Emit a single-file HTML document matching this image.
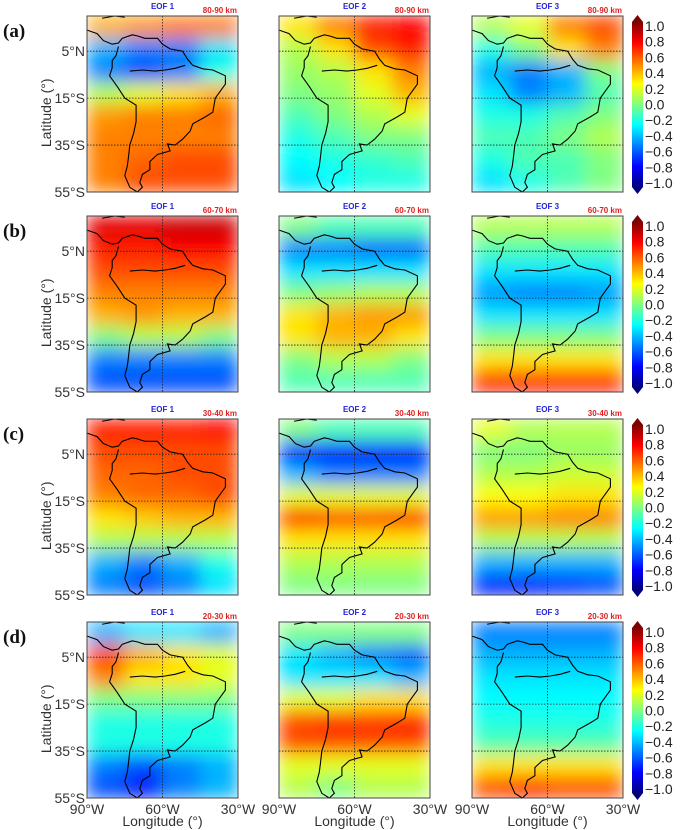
<!DOCTYPE html>
<html><head><meta charset="utf-8">
<style>
html,body{margin:0;padding:0;background:#fff;}
svg{display:block;font-family:"Liberation Sans",sans-serif;}
</style></head>
<body>
<svg id="fig" width="685" height="830" viewBox="0 0 685 830" xmlns="http://www.w3.org/2000/svg">
<defs>
<linearGradient id="jet" x1="0" y1="1" x2="0" y2="0">
<stop offset="0" stop-color="#00007f"/><stop offset="0.125" stop-color="#0000ff"/>
<stop offset="0.375" stop-color="#00ffff"/><stop offset="0.625" stop-color="#ffff00"/>
<stop offset="0.875" stop-color="#ff0000"/><stop offset="1" stop-color="#7f0000"/>
</linearGradient>
<filter id="blur" x="0" y="0" width="1" height="1"><feGaussianBlur stdDeviation="9" edgeMode="duplicate"/></filter>
</defs>
</svg>
<script>
// ---- data (8 latitude bands top->bottom, 4 longitude bands west->east) ----
const rowLabels = ["(a)","(b)","(c)","(d)"];
const heights = ["80-90 km","60-70 km","30-40 km","20-30 km"];
const eofNames = ["EOF 1","EOF 2","EOF 3"];
const latTicks = ["5°N","15°S","35°S","55°S"];
const latTickValues = [5,-15,-35,-55];
const lonTicks = ["90°W","60°W","30°W"];
const lonTickValues = [-90,-60,-30];
const cbarTicks = [1.0,0.8,0.6,0.4,0.2,0.0,-0.2,-0.4,-0.6,-0.8,-1.0];
const a1=[[0.4,0.45,0.5,0.5],[-0.4,-0.5,-0.5,-0.3],[-0.5,-0.6,-0.5,-0.2],[0.1,0.2,0.3,0.4],[0.45,0.5,0.5,0.55],[0.5,0.5,0.5,0.5],[0.5,0.55,0.6,0.6],[0.5,0.6,0.6,0.6]];
const a2=[[0.3,0.5,0.7,0.75],[0.1,0.3,0.6,0.7],[0.05,0.1,0.3,0.5],[0.0,0.05,0.2,0.4],[-0.1,0.0,0.1,0.2],[-0.2,-0.1,0.0,0.0],[-0.25,-0.2,-0.15,-0.1],[-0.3,-0.25,-0.2,-0.2]];
const a3=[[0.1,0.2,0.5,0.6],[-0.2,0.0,0.3,0.5],[-0.4,-0.5,-0.4,0.0],[-0.3,-0.5,-0.4,-0.1],[-0.2,-0.2,-0.1,0.0],[-0.1,-0.1,0.0,0.1],[-0.2,-0.1,-0.1,0.0],[-0.3,-0.2,-0.1,0.0]];
const b1=[[0.8,0.8,0.85,0.85],[0.7,0.7,0.75,0.75],[0.6,0.6,0.6,0.6],[0.5,0.5,0.5,0.5],[0.4,0.45,0.4,0.4],[0.0,0.1,0.1,0.0],[-0.5,-0.5,-0.5,-0.5],[-0.6,-0.6,-0.6,-0.6]];
const b2=[[0.0,-0.1,-0.1,-0.1],[-0.5,-0.5,-0.55,-0.55],[-0.3,-0.3,-0.3,-0.3],[0.0,0.05,0.1,0.1],[0.3,0.4,0.45,0.45],[0.3,0.4,0.4,0.3],[0.0,0.1,0.1,0.0],[-0.1,-0.1,-0.1,-0.1]];
const b3=[[0.1,0.1,0.1,0.1],[-0.1,-0.1,-0.1,-0.1],[-0.3,-0.3,-0.3,-0.3],[-0.45,-0.5,-0.5,-0.45],[-0.3,-0.3,-0.3,-0.3],[0.0,0.0,0.0,0.0],[0.3,0.3,0.3,0.3],[0.7,0.7,0.7,0.7]];
const c1=[[0.7,0.7,0.7,0.75],[0.6,0.6,0.6,0.6],[0.55,0.55,0.6,0.6],[0.5,0.55,0.55,0.6],[0.3,0.35,0.4,0.4],[0.1,0.1,0.1,0.1],[-0.4,-0.5,-0.4,-0.2],[-0.5,-0.6,-0.5,-0.3]];
const c2=[[0.0,-0.1,-0.1,-0.1],[-0.7,-0.75,-0.75,-0.75],[-0.4,-0.5,-0.5,-0.5],[0.2,0.2,0.2,0.2],[0.65,0.6,0.6,0.65],[0.3,0.3,0.3,0.3],[0.1,0.1,0.1,0.1],[0.0,0.0,0.0,0.0]];
const c3=[[0.2,0.1,0.1,0.1],[0.0,0.0,0.05,0.05],[0.1,0.1,0.15,0.15],[0.25,0.25,0.3,0.3],[0.45,0.45,0.5,0.5],[0.1,0.1,0.1,0.1],[-0.4,-0.4,-0.4,-0.4],[-0.7,-0.7,-0.65,-0.6]];
const d1=[[-0.4,-0.3,-0.3,-0.4],[0.6,0.4,0.3,0.2],[0.5,0.3,0.3,0.2],[0.0,0.0,0.0,0.0],[-0.2,-0.2,-0.2,-0.2],[-0.2,-0.2,-0.2,-0.2],[-0.5,-0.6,-0.5,-0.4],[-0.6,-0.7,-0.5,-0.4]];
const d2=[[0.0,0.0,0.0,0.0],[-0.3,-0.4,-0.5,-0.55],[-0.3,-0.3,-0.3,-0.4],[0.2,0.2,0.3,0.3],[0.6,0.65,0.65,0.7],[0.6,0.6,0.6,0.6],[0.2,0.2,0.2,0.2],[0.1,0.0,0.1,0.1]];
const d3=[[-0.5,-0.5,-0.5,-0.5],[-0.4,-0.4,-0.4,-0.4],[-0.3,-0.3,-0.3,-0.3],[-0.25,-0.25,-0.25,-0.25],[-0.2,-0.2,-0.2,-0.2],[-0.1,-0.1,-0.1,-0.1],[0.3,0.3,0.3,0.3],[0.6,0.65,0.6,0.6]];
const panels=[[a1,a2,a3],[b1,b2,b3],[c1,c2,c3],[d1,d2,d3]];
const coast=[[-90,14],[-86,12.5],[-83.5,9.5],[-80,8],[-77.5,8.5],[-76,10.5],[-72,12],[-70,11.5],[-67,10.5],[-62,10.5],[-60,8],[-57,6],[-52,5],[-50,1.5],[-48,-1],[-44,-2.5],[-40,-3],[-35,-5.5],[-35,-9],[-39,-15],[-40,-21],[-43,-23],[-48,-26],[-49,-29],[-52,-32.5],[-55,-35],[-58,-34.5],[-57,-37.5],[-62,-39],[-65,-42],[-65,-45.5],[-68,-47.5],[-69,-51],[-68,-53],[-70,-55],[-73,-53],[-75,-48],[-74,-44],[-73.5,-40],[-73,-35],[-71.5,-30],[-70.5,-25],[-70.5,-18],[-75,-15],[-78,-10],[-81,-5.5],[-80,-2],[-80,1],[-78.5,3],[-77.5,7]];
const river=[[-73,-3.5],[-68,-3],[-63,-3.5],[-59,-3],[-55,-2.3],[-51,-1]];
const caribbean=[[-84,19],[-79,20],[-75,19.5]];

// ---- layout ----
const NS="http://www.w3.org/2000/svg";
const svg=document.getElementById('fig');
const colX=[87,279,472], PW=151, PH=176;
const rowY=[16,216,419,622];
const latTop=20, latBot=-55;
function el(t,a,p){const e=document.createElementNS(NS,t);for(const k in a)e.setAttribute(k,a[k]);(p||svg).appendChild(e);return e;}
function jet(v){const t=(v+1)/2;const st=[[0,[0,0,127]],[0.125,[0,0,255]],[0.375,[0,255,255]],[0.625,[255,255,0]],[0.875,[255,0,0]],[1,[127,0,0]]];
 for(let i=0;i<st.length-1;i++){if(t<=st[i+1][0]){const f=(t-st[i][0])/(st[i+1][0]-st[i][0]);const c=st[i][1].map((a,j)=>Math.round(a+(st[i+1][1][j]-a)*f));return `rgb(${c})`;}}return 'rgb(127,0,0)';}

rowLabels.forEach((lab,r)=>{
 const y0=rowY[r];
 const xs=lon=>(lon+90)/60*PW, ys=lat=>(latTop-lat)/(latTop-latBot)*PH;
 const t=el('text',{x:3,y:y0+21,'font-family':'Liberation Serif, serif','font-weight':'bold','font-size':19,fill:'#111'});t.textContent=lab;
 
 
 const yl=el('text',{x:0,y:0,'font-size':14,fill:'#333','text-anchor':'middle',transform:`translate(51,${y0+PH*0.55}) rotate(-90)`});yl.textContent='Latitude (°)';
 
 
 latTickValues.forEach((lv,i)=>{const tl=el('text',{x:85,y:y0+ys(lv)+5,'font-size':14,fill:'#333','text-anchor':'end'});tl.textContent=latTicks[i];
  
  });
 panels[r].forEach((grid,c)=>{
  const x0=colX[c];
  const g=el('g',{transform:`translate(${x0},${y0})`});
  
  
  const clipId=`cl${r}${c}`;const cp=el('clipPath',{id:clipId},g);el('rect',{x:0,y:0,width:PW,height:PH},cp);
  const hg=el('g',{'clip-path':`url(#${clipId})`},g);
  const bg=el('g',{filter:'url(#blur)'},hg);
  const nr=grid.length,nc=grid[0].length;
  grid.forEach((row,i)=>row.forEach((v,j)=>{const cell=el('rect',{x:j*PW/nc,y:i*PH/nr,width:PW/nc+0.5,height:PH/nr+0.5,fill:jet(v)},bg);
   
   }));
  [5,-15,-35].forEach(lv=>el('line',{x1:0,x2:PW,y1:ys(lv),y2:ys(lv),stroke:'#222','stroke-width':0.8,'stroke-dasharray':'1.5,1.5'},hg));
  el('line',{x1:xs(-60),x2:xs(-60),y1:0,y2:PH,stroke:'#222','stroke-width':0.8,'stroke-dasharray':'1.5,1.5'},hg);
  const pth=pts=>pts.map((p,k)=>(k?'L':'M')+xs(p[0]).toFixed(1)+','+ys(p[1]).toFixed(1)).join('');
  const cst=el('path',{d:pth(coast),fill:'none',stroke:'#000','stroke-width':1.1},hg);
  
  
  el('path',{d:pth(river),fill:'none',stroke:'#000','stroke-width':1.1},hg);
  el('path',{d:pth(caribbean),fill:'none',stroke:'#000','stroke-width':1},hg);
  el('rect',{x:0,y:0,width:PW,height:PH,fill:'none',stroke:'#444','stroke-width':1},g);
  const e1=el('text',{x:x0+PW*0.5,y:y0-7,'font-size':8,'font-weight':'bold',fill:'#2222dd','text-anchor':'middle'});e1.textContent=eofNames[c];
  
  
  const h=el('text',{x:x0+PW-1,y:y0-3,'font-size':8,'font-weight':'bold',fill:'#e02020','text-anchor':'end'});h.textContent=heights[r];
  
  
  if(r===3){
   lonTickValues.forEach((lv,i)=>{const tl=el('text',{x:x0+xs(lv),y:y0+PH+16,'font-size':14,fill:'#333','text-anchor':'middle'});tl.textContent=lonTicks[i];
    
    });
   const xl=el('text',{x:x0+PW/2,y:826,'font-size':14,fill:'#333','text-anchor':'middle'});xl.textContent='Longitude (°)';
   
   
  }
 });
 // colorbar
 const cb=el('g',{transform:`translate(632,${y0})`});
 
 
 const cTop=6,cBot=171,W=11;
 el('rect',{x:0,y:cTop,width:W,height:cBot-cTop,fill:'url(#jet)'},cb);
 el('path',{d:`M0,${cTop}L${W/2},${cTop-7}L${W},${cTop}Z`,fill:'#7f0000'},cb);
 el('path',{d:`M0,${cBot}L${W/2},${cBot+7}L${W},${cBot}Z`,fill:'#00007f'},cb);
 const cy=v=>cTop+4+(1-v)/2*(cBot-cTop-8);
 cbarTicks.forEach(v=>{const tl=el('text',{x:W+2,y:cy(v)+5,'font-size':14,fill:'#222'},cb);tl.textContent=(v<0?'\u2212':'')+Math.abs(v).toFixed(1);
  
  });
});
</script>
</body></html>
